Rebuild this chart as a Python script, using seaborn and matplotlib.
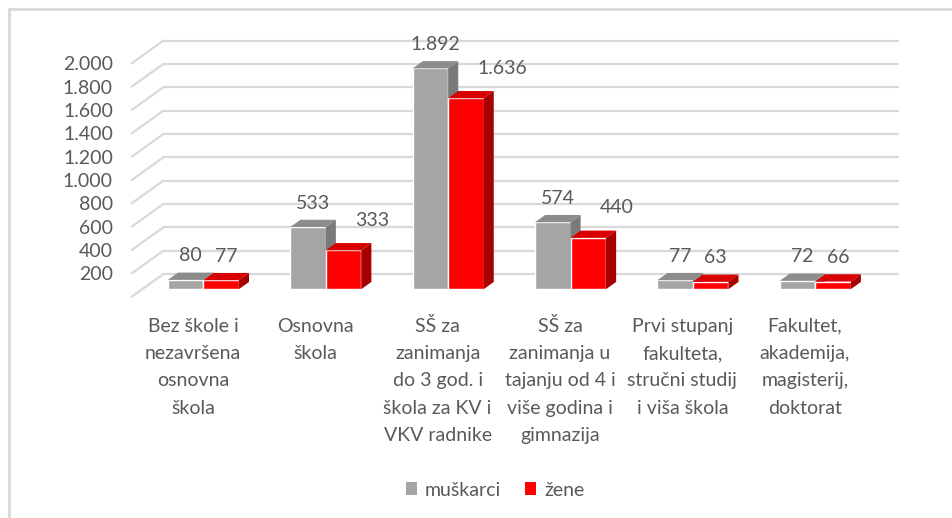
import pandas as pd
import seaborn as sns
import matplotlib.pyplot as plt
import matplotlib.transforms as mtransforms
from matplotlib.patches import Polygon, Patch
from matplotlib.lines import Line2D

# data
kategorije = [
    "Bez škole i\nnezavršena\nosnovna\nškola",
    "Osnovna\nškola",
    "SŠ za\nzanimanja\ndo 3 god. i\nškola za KV i\nVKV radnike",
    "SŠ za\nzanimanja u\ntajanju od 4 i\nviše godina i\ngimnazija",
    "Prvi stupanj\nfakulteta,\nstručni studij\ni viša škola",
    "Fakultet,\nakademija,\nmagisterij,\ndoktorat",
]
muskarci = [80, 533, 1892, 574, 77, 72]
zene = [77, 333, 1636, 440, 63, 66]
serije = ["muškarci", "žene"]
yticks = [200, 400, 600, 800, 1000, 1200, 1400, 1600, 1800, 2000]

def fmt(v):
    return f"{v:,}".replace(",", ".")

# colours: front, top, side
boje = {
    "muškarci": ("#A5A5A5", "#8C8C8C", "#7A7A7A"),
    "žene": ("#FF0000", "#D80000", "#A60000"),
}
txt_col = "#595959"
grid_col = "#D9D9D9"

sns.set_style("white")
plt.rcParams['font.family'] = ['Lato', 'DejaVu Sans']
FS = 14

W, H = 952, 518
fig = plt.figure(figsize=(W / 100, H / 100), dpi=100)
ax = fig.add_axes([131.7 / W, 221.3 / H, (866 - 131.7) / W, (454.7 - 221.3) / H])

df = pd.DataFrame({
    "kategorija": kategorije * 2,
    "broj": muskarci + zene,
    "spol": [serije[0]] * len(muskarci) + [serije[1]] * len(zene),
})
sns.barplot(data=df, x="kategorija", y="broj", hue="spol",
            palette=[boje[s][0] for s in serije], width=0.58, saturation=1,
            legend=False, ax=ax, zorder=3)
ax.set_xlim(-0.5, 5.5)
ax.set_ylim(0, 2000)
ax.set_xlabel("")
ax.set_ylabel("")
sns.despine(ax=ax, left=True, bottom=True)

# 3d depth in pixels
BX, BY = 31.7, 22.7
f0, f1 = 0.33, 0.65

# back wall gridlines + left diagonals
back = mtransforms.offset_copy(ax.transData, fig=fig, x=BX, y=BY, units='dots')
ident = mtransforms.IdentityTransform()
for v in [0] + yticks:
    ax.plot([-0.5, 5.5], [v, v], color=grid_col, lw=1.6, transform=back,
            clip_on=False, zorder=1)
    x0, y0 = ax.transData.transform((-0.5, v))
    ax.add_line(Line2D([x0, x0 + BX], [y0, y0 + BY], color=grid_col, lw=1.6,
                       transform=ident, clip_on=False, zorder=1))

# bars: shift front and add top / side faces
front = mtransforms.offset_copy(ax.transData, fig=fig, x=f0 * BX, y=f0 * BY, units='dots')
bars = sorted(ax.patches, key=lambda p: p.get_x())
for i, p in enumerate(bars):
    spol = serije[0] if p.get_facecolor()[1] > 0.5 else serije[1]
    _, c_top, c_side = boje[spol]
    z = 3 + i * 0.01
    p.set_transform(front)
    p.set_clip_on(False)
    p.set_zorder(z)
    (x0, y0) = ax.transData.transform((p.get_x(), p.get_y()))
    (x1, y1) = ax.transData.transform((p.get_x() + p.get_width(), p.get_y() + p.get_height()))
    a, b = f0 * BX, f0 * BY
    c, d = f1 * BX, f1 * BY
    side = Polygon([(x1 + a, y0 + b), (x1 + a, y1 + b), (x1 + c, y1 + d), (x1 + c, y0 + d)],
                   closed=True, facecolor=c_side, edgecolor='none', transform=ident,
                   clip_on=False, zorder=z)
    top = Polygon([(x0 + a, y1 + b), (x1 + a, y1 + b), (x1 + c, y1 + d), (x0 + c, y1 + d)],
                  closed=True, facecolor=c_top, edgecolor='none', transform=ident,
                  clip_on=False, zorder=z)
    ax.add_patch(side)
    ax.add_patch(top)

    # data label
    val = int(round(p.get_height()))
    if spol == serije[1] and val > 200:
        ax.text(x1 + a - 6, y1 + b + 30, fmt(val), transform=ident, ha='left',
                va='center', fontsize=FS, color=txt_col, zorder=10)
    else:
        ax.text((x0 + x1) / 2 + a + (c - a) / 2, y1 + b + 24, fmt(val), transform=ident,
                ha='center', va='center', fontsize=FS, color=txt_col, zorder=10)

# axes text
ax.set_yticks(yticks)
ax.set_yticklabels([fmt(v) for v in yticks])
ax.tick_params(axis='y', length=0, pad=13.5, labelsize=FS, labelcolor=txt_col)
ax.set_xticks([])

# category labels: one centred text per line
for i, k in enumerate(kategorije):
    for j, red in enumerate(k.split("\n")):
        tr = mtransforms.offset_copy(ax.get_xaxis_transform(), fig=fig, x=0,
                                     y=-35 - 27.3 * j, units='dots')
        ax.text(i, 0, red, transform=tr, ha='center', va='baseline',
                fontsize=FS, color=txt_col)

# legend
ruke = [Patch(facecolor=boje[s][0], edgecolor='none', label=s) for s in serije]
fig.legend(handles=ruke, loc='center', bbox_to_anchor=(495 / W, 1 - 490 / H), ncol=2,
           frameon=False, fontsize=FS, handlelength=0.6, handleheight=0.6,
           handletextpad=0.4, columnspacing=1.2, labelcolor=txt_col)

# chart border (top and left visible)
fig.add_artist(Line2D([9 / W, 1], [1 - 9 / H, 1 - 9 / H], color=grid_col, lw=2))
fig.add_artist(Line2D([9 / W, 9 / W], [0, 1 - 9 / H], color=grid_col, lw=2))

fig.savefig("out.png", dpi=100)
